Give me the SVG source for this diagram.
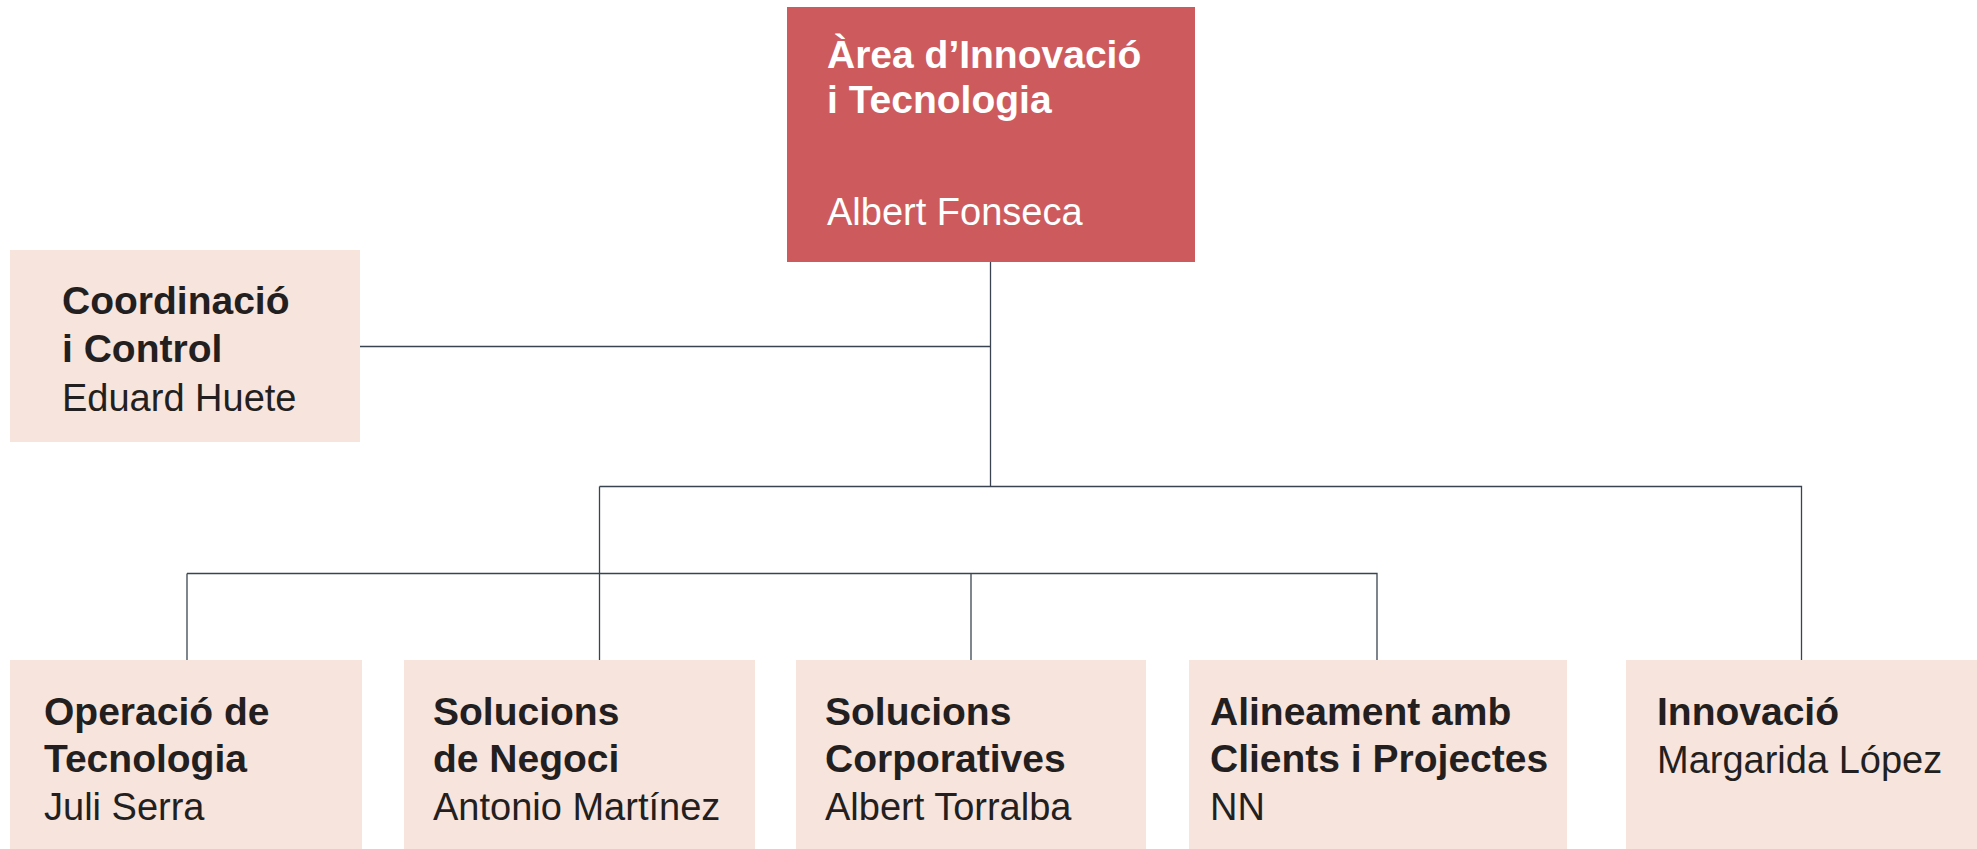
<svg xmlns="http://www.w3.org/2000/svg" width="1977" height="849" viewBox="0 0 1977 849">
<style>
.bg{fill:#ffffff}
.head{fill:#cd5b5d}
.box{fill:#f7e4dc}
.t{font-family:"Liberation Sans",Arial,sans-serif;fill:#231f20}
.b{font-weight:bold;font-size:39px}
.n{font-size:38px}
.w{fill:#ffffff}
.conn{fill:none;stroke:#3a4450;stroke-width:1.3}
</style>
<rect class="bg" x="0" y="0" width="1977" height="849"/>
<g id="connectors">
<path class="conn" d="M990.5 262 V486.5"/>
<path class="conn" d="M360 346.5 H990.5"/>
<path class="conn" d="M599.5 486.5 H1801.5 V660"/>
<path class="conn" d="M599.5 486.5 V660"/>
<path class="conn" d="M187 573.5 H1377 V660"/>
<path class="conn" d="M187 573.5 V660"/>
<path class="conn" d="M971 573.5 V660"/>
</g>
<g id="node-area">
<rect class="head" x="787" y="7" width="408" height="255"/>
<text class="t b w" x="827" y="68">Àrea d’Innovació</text>
<text class="t b w" x="827" y="113">i Tecnologia</text>
<text class="t n w" x="827" y="225">Albert Fonseca</text>
</g>
<g id="node-coordinacio">
<rect class="box" x="10" y="250" width="350" height="192"/>
<text class="t b" x="62" y="314">Coordinació</text>
<text class="t b" x="62" y="362">i Control</text>
<text class="t n" x="62" y="411">Eduard Huete</text>
</g>
<g id="node-operacio">
<rect class="box" x="10" y="660" width="352" height="189"/>
<text class="t b" x="44" y="725">Operació de</text>
<text class="t b" x="44" y="772">Tecnologia</text>
<text class="t n" x="44" y="820">Juli Serra</text>
</g>
<g id="node-negoci">
<rect class="box" x="404" y="660" width="351" height="189"/>
<text class="t b" x="433" y="725">Solucions</text>
<text class="t b" x="433" y="772">de Negoci</text>
<text class="t n" x="433" y="820">Antonio Martínez</text>
</g>
<g id="node-corporatives">
<rect class="box" x="796" y="660" width="350" height="189"/>
<text class="t b" x="825" y="725">Solucions</text>
<text class="t b" x="825" y="772">Corporatives</text>
<text class="t n" x="825" y="820">Albert Torralba</text>
</g>
<g id="node-alineament">
<rect class="box" x="1189" y="660" width="378" height="189"/>
<text class="t b" x="1210" y="725">Alineament amb</text>
<text class="t b" x="1210" y="772">Clients i Projectes</text>
<text class="t n" x="1210" y="820">NN</text>
</g>
<g id="node-innovacio">
<rect class="box" x="1626" y="660" width="351" height="189"/>
<text class="t b" x="1657" y="725">Innovació</text>
<text class="t n" x="1657" y="773">Margarida López</text>
</g>
</svg>
